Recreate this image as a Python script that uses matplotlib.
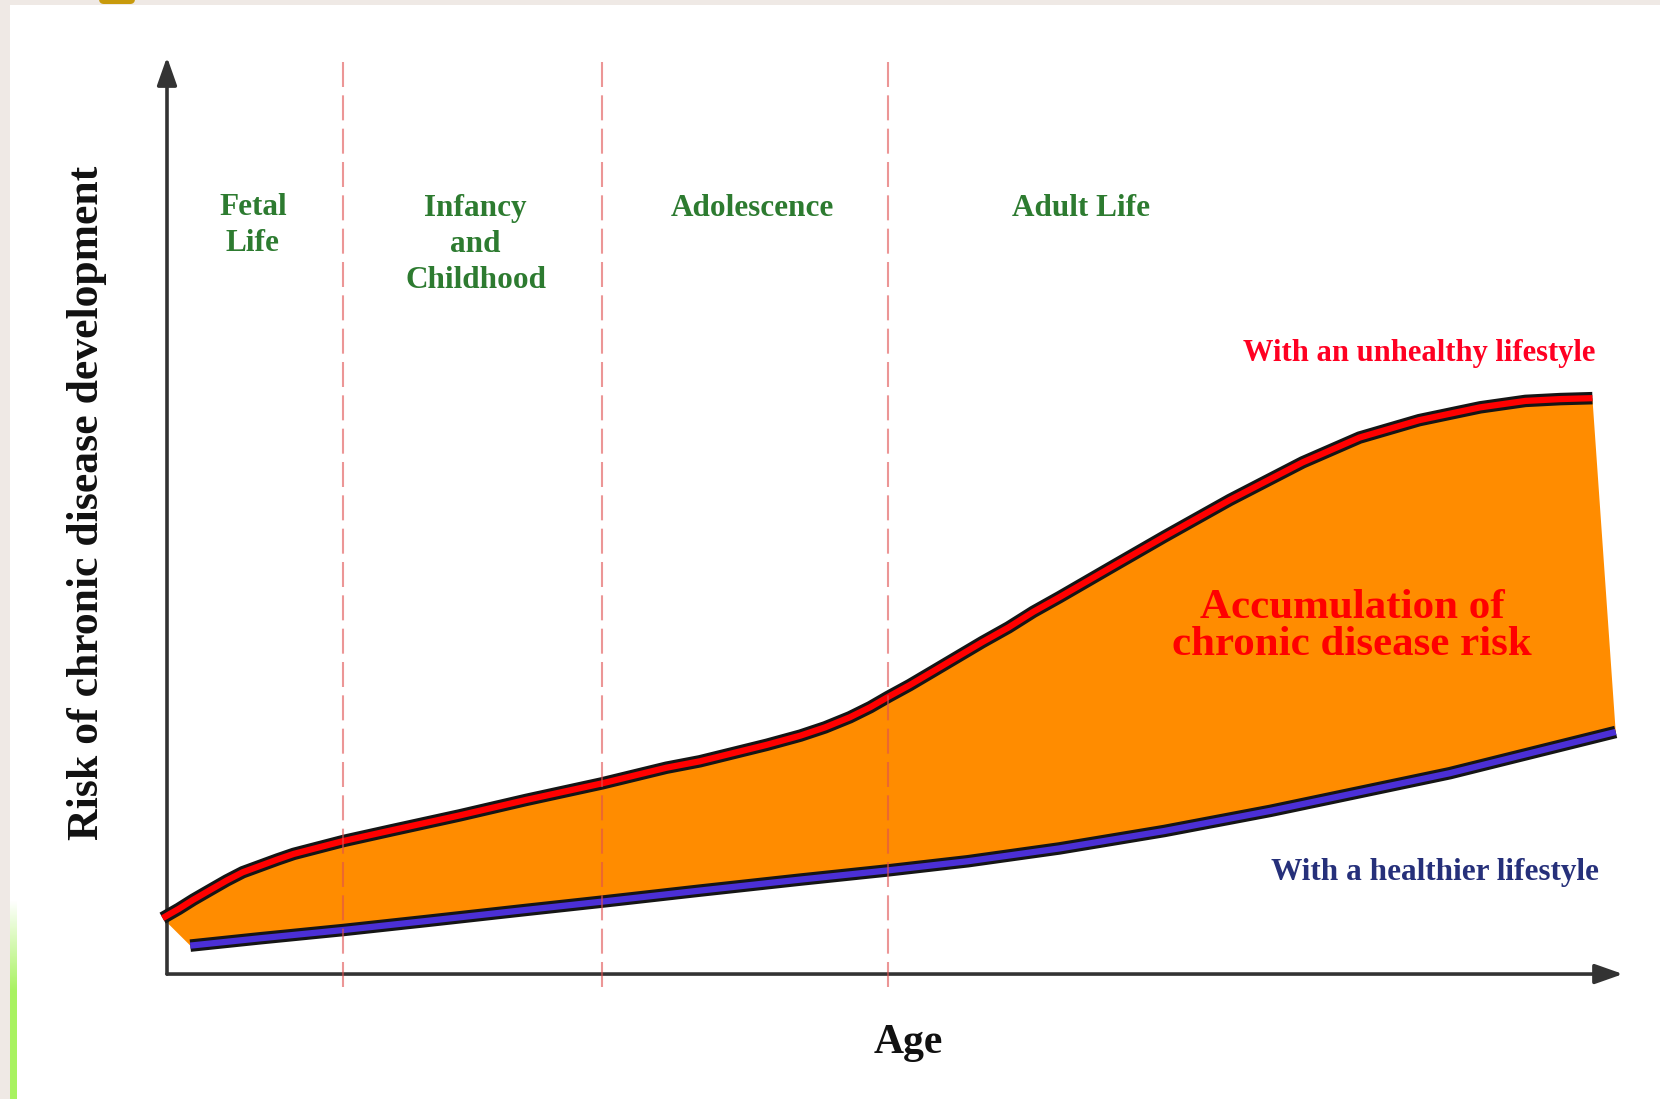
import numpy as np
import matplotlib
matplotlib.use("Agg")
import matplotlib.pyplot as plt
from matplotlib import patheffects as pe
from matplotlib.patches import Rectangle, FancyBboxPatch

# risk curves (age and risk in arbitrary 0-100 units)
age_unhealthy = [-0.3, 0.8, 1.8, 3.0, 4.1, 5.2, 6.4, 7.6, 8.7, 10.4, 12.1, 15.5, 20.1,
                 24.7, 29.9, 34.3, 36.6, 38.9, 41.2, 43.5, 45.2, 46.9, 48.3, 49.5,
                 51.0, 52.6, 54.3, 56.0, 57.8, 59.5, 61.3, 65.0, 68.5, 73.0, 78.0,
                 81.9, 86.0, 90.2, 93.3, 95.7, 97.9]
risk_unhealthy = [6.1, 7.1, 8.1, 9.2, 10.2, 11.1, 11.8, 12.5, 13.1, 13.8, 14.5, 15.7, 17.3,
                  19.0, 20.8, 22.5, 23.2, 24.1, 25.0, 26.0, 26.9, 28.0, 29.1, 30.2,
                  31.5, 33.0, 34.6, 36.2, 37.8, 39.5, 41.1, 44.5, 47.7, 51.7, 55.8,
                  58.5, 60.4, 61.8, 62.5, 62.7, 62.8]
age_healthy = [1.6, 6.4, 12.1, 17.9, 24.7, 29.9, 36.6, 43.5, 49.5, 55.0, 61.3, 68.5,
               75.8, 83.0, 88.1, 92.4, 99.5]
risk_healthy = [3.1, 3.9, 4.8, 5.8, 7.0, 7.9, 9.1, 10.3, 11.3, 12.3, 13.7, 15.6,
                17.8, 20.2, 21.9, 23.6, 26.4]

phase_bounds = [12.1, 29.9, 49.5]
phase_labels = ["Fetal\nLife", "Infancy\nand\nChildhood", "Adolescence", "Adult Life"]
phase_label_x = [5.9, 21.2, 40.2, 62.8]
phase_label_y = [81.6, 79.6, 83.5, 83.5]

plt.rcParams['font.family'] = ['Liberation Serif', 'DejaVu Serif']

fig = plt.figure(figsize=(16.6, 10.99), dpi=100)
fig.patch.set_facecolor("white")

# slide frame bits behind the chart (pixel coords)
bg = fig.add_axes([0, 0, 1, 1], zorder=-1)
bg.axis("off")
bg.add_patch(Rectangle((0, 0), 10, 1099, color="#efe9e5", lw=0))
bg.add_patch(Rectangle((0, 0), 1660, 5, color="#efe9e5", lw=0))
bg.add_patch(FancyBboxPatch((99, -10), 36, 14, boxstyle="round,pad=0,rounding_size=5",
                            color="#c89a0c", lw=0))
grad = np.linspace(0, 1, 200).reshape(-1, 1)
green = np.zeros((200, 1, 4))
green[..., 0] = 0.66
green[..., 1] = 0.95
green[..., 2] = 0.38
green[..., 3] = np.clip(grad * 2.2, 0, 1)
bg.imshow(green, extent=(10, 16, 1099, 900), aspect="auto", interpolation="bilinear")
bg.set_xlim(0, 1660)
bg.set_ylim(1099, 0)

ax = fig.add_axes([0.1006, 0.1137, 0.8771, 0.8344])
ax.set_xlim(0, 100)
ax.set_ylim(0, 100)
ax.axis("off")

# axes with arrows
arr = dict(arrowstyle="-|>,head_length=0.85,head_width=0.3", lw=2.6, color="#333333",
           shrinkA=0, shrinkB=0, mutation_scale=20)
ax.annotate("", xy=(0, 100), xytext=(0, 0), arrowprops=arr, annotation_clip=False)
ax.annotate("", xy=(100, 0), xytext=(0, 0), arrowprops=arr, annotation_clip=False)

# area between the two lifestyles
ax.fill(np.concatenate([age_unhealthy, age_healthy[::-1]]),
        np.concatenate([risk_unhealthy, risk_healthy[::-1]]),
        color="#ff8c00", lw=0, zorder=2)

outline = [pe.Stroke(linewidth=9, foreground="#151515"), pe.Normal()]
ax.plot(age_unhealthy, risk_unhealthy, color="#ff0000", lw=4.5, zorder=3,
        solid_capstyle="butt", solid_joinstyle="round", path_effects=outline,
        clip_on=False)
ax.plot(age_healthy, risk_healthy, color="#4b2fd6", lw=4.5, zorder=3,
        solid_capstyle="butt", solid_joinstyle="round", path_effects=outline,
        clip_on=False)

# phase boundaries
for xb in phase_bounds:
    ax.plot([xb, xb], [-1.4, 100.1], color="#e05050", alpha=0.6, lw=1.5,
            linestyle=(0, (12, 4)), zorder=4, clip_on=False)

for lab, x, y in zip(phase_labels, phase_label_x, phase_label_y):
    ax.text(x, y, lab, ha="center", va="center", fontsize=22.5, fontweight="bold",
            color="#2d7b30", linespacing=1.32)

ax.text(86.0, 67.7, "With an unhealthy lifestyle", ha="center", va="center",
        fontsize=22, fontweight="bold", color="#ff0022")
ax.text(81.4, 37.9, "Accumulation of\nchronic disease risk", ha="center", va="center",
        fontsize=31, fontweight="bold", color="#ff0000", linespacing=0.97, zorder=5)
ax.text(87.1, 11.1, "With a healthier lifestyle", ha="center", va="center",
        fontsize=22.5, fontweight="bold", color="#26307a")

ax.text(50.9, -7.5, "Age", ha="center", va="center", fontsize=30,
        fontweight="bold", color="#111111", clip_on=False)
ax.text(-5.5, 51.4, "Risk of chronic disease development", ha="center", va="center",
        rotation=90, fontsize=31.5, fontweight="bold", color="#111111", clip_on=False)

fig.savefig("out.png", dpi=100)
